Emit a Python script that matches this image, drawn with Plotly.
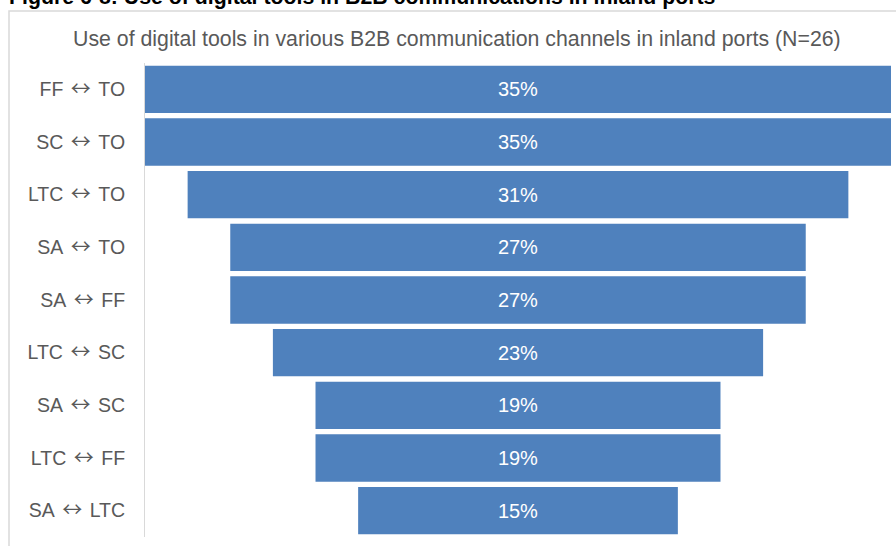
import plotly.graph_objects as go

# Communication channels (top to bottom) and share of ports using digital tools
channels = ["FF ↔ TO", "SC ↔ TO", "LTC ↔ TO", "SA ↔ TO", "SA ↔ FF",
            "LTC ↔ SC", "SA ↔ SC", "LTC ↔ FF", "SA ↔ LTC"]
shares = [35, 35, 31, 27, 27, 23, 19, 19, 15]

chart_title = "Use of digital tools in various B2B communication channels in inland ports (N=26)"
figure_caption = "Figure 6-8: Use of digital tools in B2B communications in inland ports"

W, H = 896, 546
L, R, T, B = 145, 5, 63, 9
pw, ph = W - L - R, H - T - B

# render the double arrow in a font that has a wide, thin glyph for it,
# with slightly wider spaces on each side
gap = '<span style="font-size:27px"> </span>'
arrow = gap + '<span style="font-family:Noto Sans CJK SC;font-size:20px">↔</span>' + gap
tick_text = [c.replace(" ↔ ", arrow) for c in channels]

fig = go.Figure(go.Funnel(
    y=channels,
    x=shares,
    marker=dict(color="#4F81BD", line=dict(width=0)),
    connector=dict(visible=False),
    texttemplate="%{x}%",
    textposition="inside",
    insidetextanchor="middle",
    textfont=dict(color="white", size=20, family="Liberation Sans, Arial, sans-serif"),
    hoverinfo="y+x",
))

def px_x(p):
    return (p - L) / pw

def px_y(p):
    return (H - B - p) / ph

half = max(shares) / 2

fig.update_layout(
    width=W, height=H,
    margin=dict(l=L, r=R, t=T, b=B),
    paper_bgcolor="white",
    plot_bgcolor="white",
    showlegend=False,
    funnelgap=0.1,
    font=dict(family="Liberation Sans, Arial, sans-serif", color="#595959", size=19),
    yaxis=dict(
        showline=True, linecolor="#d9d9d9", linewidth=1,
        ticks="", ticklabelstandoff=15,
        tickmode="array", tickvals=channels, ticktext=tick_text,
        tickfont=dict(size=19.5, color="#595959"),
        showgrid=False,
    ),
    xaxis=dict(visible=False, range=[-half, half]),
    shapes=[dict(
        type="rect", xref="paper", yref="paper",
        x0=px_x(9), x1=px_x(910), y0=px_y(560), y1=px_y(11),
        line=dict(color="#d9d9d9", width=1.5), fillcolor="rgba(0,0,0,0)",
        layer="below",
    )],
    annotations=[
        dict(text=chart_title, xref="paper", yref="paper",
             x=px_x(457), y=px_y(39), xanchor="center", yanchor="middle",
             showarrow=False, font=dict(size=21.3, color="#595959")),
        dict(text="<b>" + figure_caption + "</b>", xref="paper", yref="paper",
             x=px_x(7), y=px_y(11), xanchor="left", yanchor="bottom",
             showarrow=False, font=dict(size=21.3, color="black")),
    ],
)

fig.write_html("out.html")
